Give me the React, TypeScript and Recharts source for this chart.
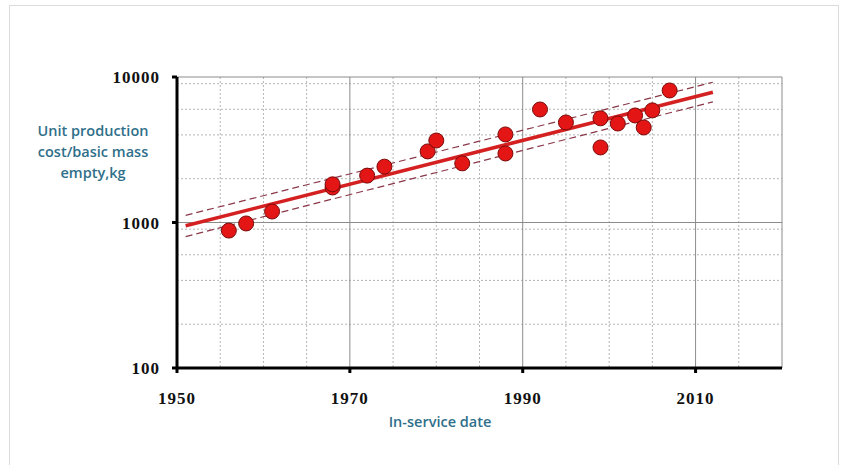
import React from 'react';
import { ComposedChart, Scatter, Line, XAxis, YAxis, CartesianGrid } from 'recharts';

// in-service year vs unit production cost per kg (log scale)
const years = [1956, 1958, 1961, 1968, 1968, 1972, 1974, 1979, 1980, 1983, 1988, 1988, 1992, 1995, 1999, 1999, 2001, 2003, 2004, 2005, 2007];
const costs = [880, 985, 1190, 1740, 1830, 2100, 2420, 3080, 3660, 2550, 4030, 2980, 5980, 4870, 5200, 3280, 4790, 5440, 4500, 5900, 8080];

const trendYears = [1951, 2012];
const trend = [950, 7850];
const upperBand = [1120, 9200];
const lowerBand = [800, 6750];

const xTicks = [1950, 1970, 1990, 2010];
const yTicks = [100, 1000, 10000];
const minorYears = [1955, 1960, 1965, 1975, 1980, 1985, 1995, 2000, 2005, 2015];
const majorYears = [1970, 1990, 2010, 2020];
const minorValues = [200, 300, 400, 500, 600, 700, 800, 900, 2000, 3000, 4000, 5000, 6000, 7000, 8000, 9000];
const majorValues = [1000, 10000];

const points = years.map((x, i) => ({ x, y: costs[i] }));
const toLine = (vals: number[]) => trendYears.map((x, i) => ({ x, y: vals[i] }));

const tickFont = { fontFamily: '"Liberation Serif", serif', fontWeight: 700, fontSize: 17, fill: '#111', letterSpacing: 1 };
const labelColor = '#2f6f8a';

const Dot = (props: any) => (
  <circle cx={props.cx} cy={props.cy} r={7.5} fill="#e31515" stroke="#7a0a0a" strokeWidth={1} />
);

export default function App() {
  return (
    <div style={{ position: 'absolute', left: 0, top: 0, width: 844, height: 465, background: '#fff', overflow: 'hidden' }}>
      <div style={{ position: 'absolute', left: 9, top: 5, width: 828, height: 470, border: '1px solid #dcdcdc' }} />
      <ComposedChart width={844} height={465} margin={{ top: 77, right: 62, bottom: 57, left: 0 }}>
        <CartesianGrid
          horizontalValues={minorValues}
          verticalValues={minorYears}
          stroke="#b5b5b5"
          strokeDasharray="2 2"
          fill="none"
        />
        <CartesianGrid
          horizontalValues={majorValues}
          verticalValues={majorYears}
          stroke="#8c8c8c"
          fill="none"
        />
        <XAxis
          type="number"
          dataKey="x"
          domain={[1950, 2020]}
          ticks={xTicks}
          allowDataOverflow
          height={40}
          axisLine={{ stroke: '#000', strokeWidth: 3 }}
          tickLine={{ stroke: '#000', strokeWidth: 3 }}
          tickSize={5}
          tickMargin={19}
          tick={tickFont}
        />
        <YAxis
          type="number"
          dataKey="y"
          scale="log"
          domain={[100, 10000]}
          ticks={yTicks}
          allowDataOverflow
          width={177}
          axisLine={{ stroke: '#000', strokeWidth: 3 }}
          tickLine={{ stroke: '#000', strokeWidth: 3 }}
          tickSize={5}
          tickMargin={12}
          tick={tickFont}
        />
        <Line data={toLine(upperBand)} dataKey="y" stroke="#8a3848" strokeWidth={1.2} strokeDasharray="7 4" dot={false} isAnimationActive={false} />
        <Line data={toLine(lowerBand)} dataKey="y" stroke="#8a3848" strokeWidth={1.2} strokeDasharray="7 4" dot={false} isAnimationActive={false} />
        <Line data={toLine(trend)} dataKey="y" stroke="#d42020" strokeWidth={3.5} dot={false} isAnimationActive={false} />
        <Scatter data={points} dataKey="y" shape={Dot} isAnimationActive={false} />
      </ComposedChart>
      <div style={{ position: 'absolute', left: 20, top: 120, width: 146, textAlign: 'center', fontFamily: '"Open Sans", sans-serif', fontSize: 14.5, lineHeight: '21px', color: labelColor, fontWeight: 600 }}>
        Unit production<br />cost/basic mass<br />empty,kg
      </div>
      <div style={{ position: 'absolute', left: 340, top: 411, width: 200, textAlign: 'center', fontFamily: '"Open Sans", sans-serif', fontSize: 14.5, lineHeight: '21px', color: labelColor, fontWeight: 600 }}>
        In-service date
      </div>
    </div>
  );
}
